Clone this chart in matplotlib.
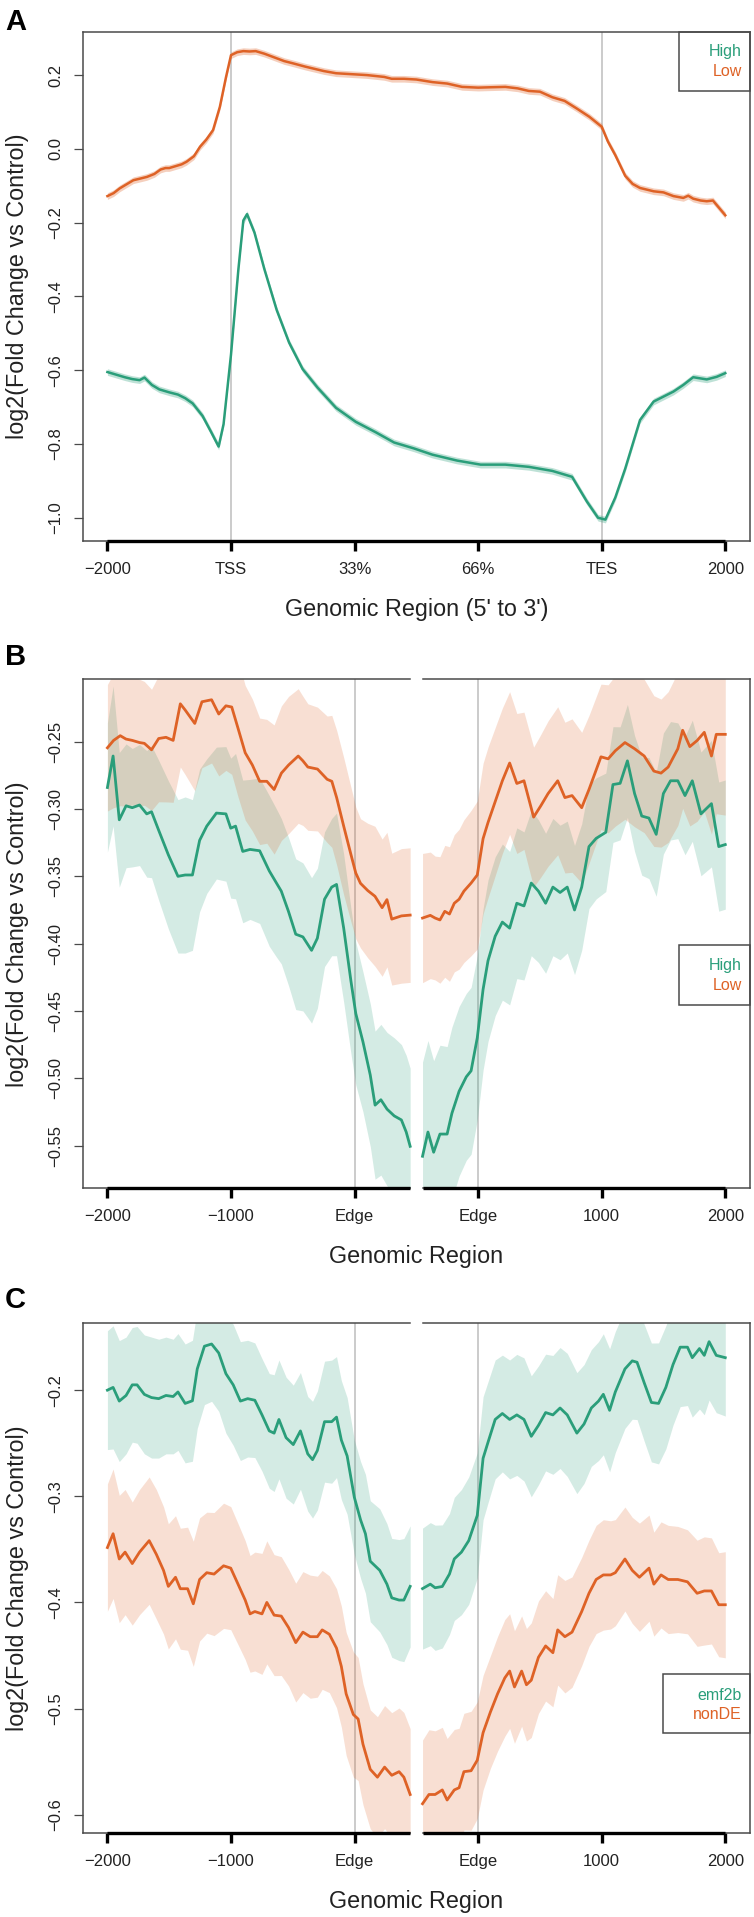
import numpy as np
import matplotlib
matplotlib.use('Agg')
import matplotlib.pyplot as plt
from matplotlib.patches import Rectangle

plt.rcParams['font.family'] = ['Liberation Sans', 'DejaVu Sans']

# ---------------- DATA ----------------
GREEN = '#2A9E7A'
ORANGE = '#DE6226'

# Panel A: x in profile units (0=-2000, 1=TSS, 2=33%, 3=66%, 4=TES, 5=2000)
A_xticklabels = ['\u22122000', 'TSS', '33%', '66%', 'TES', '2000']
A_legend = ['High', 'Low']
A_low_x = [0, 0.05, 0.10, 0.15, 0.21, 0.26, 0.32, 0.38, 0.43, 0.47, 0.50, 0.54, 0.60, 0.64, 0.70,
           0.75, 0.80, 0.855, 0.91, 0.96, 1.0, 1.05, 1.1, 1.15, 1.2, 1.27, 1.35, 1.43, 1.5, 1.6,
           1.75, 1.85, 2.0, 2.1, 2.24, 2.3, 2.4, 2.5, 2.63, 2.75, 2.87, 3.0, 3.1, 3.22, 3.32,
           3.41, 3.5, 3.6, 3.7, 3.8, 3.9, 4.0, 4.05, 4.11, 4.19, 4.25, 4.31, 4.42, 4.5, 4.58,
           4.66, 4.7, 4.74, 4.8, 4.85, 4.9, 4.95, 5.0]
A_low = [-0.128, -0.12, -0.107, -0.097, -0.085, -0.081, -0.076, -0.068, -0.056, -0.052, -0.052, -0.048, -0.042, -0.035, -0.02,
         0.006, 0.025, 0.051, 0.114, 0.195, 0.254, 0.262, 0.265, 0.264, 0.265, 0.258, 0.248, 0.238, 0.232, 0.223,
         0.211, 0.205, 0.202, 0.2, 0.195, 0.19, 0.19, 0.188, 0.181, 0.177, 0.168, 0.166, 0.167, 0.168, 0.164,
         0.157, 0.155, 0.14, 0.13, 0.109, 0.087, 0.06, 0.02, -0.017, -0.073, -0.095, -0.106, -0.115, -0.118, -0.128,
         -0.133, -0.127, -0.135, -0.14, -0.142, -0.14, -0.16, -0.18]
A_high_x = [0, 0.07, 0.14, 0.2, 0.26, 0.3, 0.36, 0.42, 0.5, 0.57, 0.63, 0.69, 0.77, 0.84, 0.9, 0.94, 1.0,
            1.06, 1.10, 1.13, 1.19, 1.27, 1.37, 1.47, 1.58, 1.7, 1.85, 2.01, 2.17, 2.32, 2.48, 2.63,
            2.83, 3.02, 3.22, 3.41, 3.6, 3.76, 3.88, 3.97, 4.03, 4.11, 4.19, 4.31, 4.42, 4.58, 4.66,
            4.74, 4.85, 4.93, 5.0]
A_high = [-0.605, -0.612, -0.619, -0.624, -0.627, -0.62, -0.64, -0.652, -0.66, -0.666, -0.676, -0.69, -0.724, -0.768, -0.807, -0.746, -0.558,
          -0.326, -0.194, -0.177, -0.227, -0.326, -0.437, -0.525, -0.597, -0.647, -0.702, -0.74, -0.768, -0.796, -0.812, -0.829,
          -0.845, -0.856, -0.856, -0.862, -0.873, -0.889, -0.956, -1.0, -1.005, -0.945, -0.867, -0.735, -0.685, -0.658, -0.64,
          -0.619, -0.625, -0.618, -0.608]
A_low_se = 0.009
A_high_se = 0.009

# Panels B and C: bp relative to edge; left block is the left edge, right block the right edge
BC_xticklabels = ['\u22122000', '\u22121000', 'Edge', 'Edge', '1000', '2000']
B_legend = ['High', 'Low']
C_legend = ['emf2b', 'nonDE']

B_low_left_bp = [-2000, -1950, -1896, -1850, -1799, -1740, -1701, -1643, -1585, -1526,
                 -1468, -1410, -1371, -1293, -1235, -1157, -1099, -1041, -994, -943,
                 -885, -827, -768, -710, -651, -592, -534, -456, -418, -378,
                 -300, -222, -184, -145, -88, -29, 10, 48, 107, 165,
                 223, 262, 301, 379, 450]
B_low_left = [-0.2545, -0.249, -0.2455, -0.248, -0.249, -0.2506, -0.2512, -0.256, -0.2476, -0.2467,
              -0.249, -0.2218, -0.2264, -0.2364, -0.2203, -0.2188, -0.2294, -0.2233, -0.2242, -0.24,
              -0.2582, -0.2673, -0.2794, -0.2794, -0.2855, -0.2733, -0.2673, -0.2606, -0.2642, -0.2688,
              -0.2703, -0.2779, -0.2794, -0.2915, -0.3127, -0.3339, -0.3476, -0.3552, -0.3606, -0.3648,
              -0.3733, -0.3673, -0.3818, -0.3794, -0.3788]
B_low_left_se = [0.047, 0.050, 0.052, 0.050, 0.048, 0.047, 0.046, 0.045, 0.047, 0.048,
                 0.046, 0.047, 0.048, 0.050, 0.049, 0.047, 0.046, 0.048, 0.050, 0.051,
                 0.050, 0.049, 0.047, 0.046, 0.048, 0.050, 0.051, 0.050, 0.048, 0.047,
                 0.046, 0.047, 0.049, 0.050, 0.051, 0.050, 0.049, 0.048, 0.050, 0.052,
                 0.051, 0.050, 0.049, 0.050, 0.050]
B_high_left_bp = [-2000, -1954, -1904, -1849, -1799, -1740, -1682, -1643, -1585, -1507,
                  -1429, -1371, -1312, -1254, -1196, -1118, -1041, -1002, -963, -905,
                  -846, -768, -690, -632, -593, -535, -476, -418, -348, -301,
                  -243, -185, -146, -88, -29, 10, 68, 127, 166, 213,
                  263, 321, 379, 418, 450]
B_high_left = [-0.284, -0.2606, -0.308, -0.2976, -0.299, -0.297, -0.3036, -0.302, -0.3158, -0.334,
               -0.35, -0.349, -0.349, -0.3233, -0.3127, -0.303, -0.3036, -0.3142, -0.3127, -0.3315,
               -0.330, -0.331, -0.346, -0.355, -0.361, -0.376, -0.393, -0.395, -0.405, -0.396,
               -0.367, -0.358, -0.356, -0.3885, -0.428, -0.452, -0.473, -0.4976, -0.520, -0.516,
               -0.523, -0.528, -0.531, -0.540, -0.5506]
B_high_left_se = [0.048, 0.052, 0.050, 0.046, 0.044, 0.045, 0.047, 0.049, 0.052, 0.055,
                  0.057, 0.058, 0.056, 0.053, 0.050, 0.049, 0.050, 0.052, 0.054, 0.053,
                  0.052, 0.054, 0.056, 0.055, 0.054, 0.055, 0.056, 0.055, 0.054, 0.052,
                  0.050, 0.051, 0.053, 0.055, 0.054, 0.053, 0.052, 0.053, 0.055, 0.056,
                  0.057, 0.058, 0.056, 0.057, 0.058]
B_low_right_bp = [-450, -387, -348, -309, -270, -232, -193, -154, -115, -57,
                  -7, 40, 80, 138, 196, 255, 313, 371, 449, 507,
                  566, 644, 702, 760, 838, 897, 994, 1052, 1110, 1188,
                  1266, 1344, 1422, 1480, 1538, 1616, 1655, 1713, 1772, 1830,
                  1888, 1927, 2000]
B_low_right = [-0.381, -0.379, -0.381, -0.3824, -0.376, -0.378, -0.370, -0.367, -0.361, -0.355,
               -0.349, -0.322, -0.310, -0.2945, -0.279, -0.2658, -0.281, -0.279, -0.306, -0.2976,
               -0.2885, -0.279, -0.2915, -0.29, -0.299, -0.2855, -0.2612, -0.2627, -0.2567, -0.2506,
               -0.2552, -0.2606, -0.2718, -0.2733, -0.2688, -0.2552, -0.2415, -0.2536, -0.2491, -0.243,
               -0.2606, -0.2445, -0.2445]
B_low_right_se = [0.048, 0.047, 0.046, 0.047, 0.049, 0.050, 0.051, 0.052, 0.053, 0.054,
                  0.055, 0.056, 0.056, 0.055, 0.054, 0.053, 0.052, 0.051, 0.052, 0.053,
                  0.054, 0.055, 0.056, 0.057, 0.056, 0.055, 0.054, 0.055, 0.056, 0.057,
                  0.058, 0.057, 0.056, 0.055, 0.056, 0.057, 0.058, 0.059, 0.060, 0.059,
                  0.058, 0.059, 0.060]
B_high_right_bp = [-450, -406, -360, -309, -251, -212, -154, -96, -57, -7,
                   40, 80, 138, 196, 255, 313, 371, 430, 488, 546,
                   605, 663, 721, 780, 838, 897, 955, 1033, 1091, 1149,
                   1208, 1266, 1324, 1382, 1441, 1499, 1557, 1616, 1674, 1733,
                   1803, 1888, 1947, 2000]
B_high_right = [-0.558, -0.540, -0.555, -0.5415, -0.5415, -0.526, -0.5097, -0.499, -0.4945, -0.470,
                -0.434, -0.4127, -0.3945, -0.384, -0.3885, -0.370, -0.372, -0.355, -0.361, -0.370,
                -0.358, -0.362, -0.358, -0.375, -0.358, -0.3279, -0.3218, -0.3173, -0.2818, -0.2809,
                -0.2642, -0.2885, -0.3052, -0.3067, -0.3188, -0.2885, -0.279, -0.279, -0.29, -0.279,
                -0.3036, -0.296, -0.3279, -0.3264]
B_high_right_se = [0.070, 0.068, 0.068, 0.066, 0.065, 0.064, 0.063, 0.062, 0.062, 0.061,
                   0.060, 0.060, 0.059, 0.058, 0.057, 0.056, 0.055, 0.054, 0.053, 0.052,
                   0.051, 0.050, 0.049, 0.048, 0.047, 0.046, 0.045, 0.044, 0.043, 0.042,
                   0.042, 0.043, 0.044, 0.045, 0.046, 0.045, 0.044, 0.043, 0.044, 0.045,
                   0.046, 0.047, 0.048, 0.048]

C_emf_left_bp = [-2000, -1954, -1904, -1849, -1799, -1760, -1701, -1643, -1585, -1526,
                 -1468, -1429, -1371, -1312, -1273, -1215, -1157, -1099, -1041, -982,
                 -924, -865, -807, -749, -690, -651, -612, -554, -496, -438,
                 -379, -340, -301, -243, -185, -146, -107, -60, -2, 49,
                 88, 127, 204, 262, 301, 360, 399, 450]
C_emf_left = [-0.2, -0.1974, -0.2103, -0.205, -0.195, -0.195, -0.204, -0.207, -0.208, -0.205,
              -0.206, -0.2017, -0.2125, -0.210, -0.180, -0.1586, -0.1565, -0.165, -0.1845, -0.195,
              -0.2103, -0.208, -0.2095, -0.2233, -0.2384, -0.2405, -0.2276, -0.2448, -0.2513, -0.2384,
              -0.260, -0.2655, -0.2569, -0.2297, -0.2297, -0.2254, -0.247, -0.262, -0.3009, -0.3224,
              -0.3353, -0.3612, -0.3698, -0.3828, -0.3957, -0.3978, -0.3978, -0.3849]
C_emf_left_se = [0.056, 0.058, 0.057, 0.055, 0.054, 0.055, 0.056, 0.057, 0.056, 0.055,
                 0.054, 0.055, 0.056, 0.057, 0.056, 0.055, 0.054, 0.055, 0.056, 0.057,
                 0.056, 0.055, 0.054, 0.053, 0.054, 0.055, 0.056, 0.057, 0.056, 0.055,
                 0.054, 0.055, 0.056, 0.057, 0.058, 0.057, 0.056, 0.055, 0.054, 0.055,
                 0.056, 0.057, 0.058, 0.057, 0.056, 0.057, 0.058, 0.057]
C_emf_right_bp = [-450, -387, -348, -290, -232, -193, -135, -76, -7, 40,
                  80, 138, 196, 255, 313, 371, 430, 488, 546, 605,
                  663, 721, 799, 857, 916, 974, 1013, 1064, 1110, 1188,
                  1247, 1286, 1344, 1402, 1460, 1519, 1577, 1635, 1694, 1733,
                  1791, 1830, 1869, 1927, 2000]
C_emf_right = [-0.387, -0.3828, -0.3862, -0.385, -0.3733, -0.359, -0.3526, -0.3418, -0.318, -0.2642,
               -0.2491, -0.2276, -0.222, -0.2276, -0.2233, -0.2276, -0.2435, -0.2332, -0.2211, -0.2233,
               -0.2168, -0.2233, -0.2405, -0.2319, -0.2168, -0.2103, -0.2039, -0.219, -0.2017, -0.180,
               -0.1724, -0.1737, -0.1931, -0.2116, -0.2125, -0.1974, -0.1759, -0.1595, -0.1595, -0.1694,
               -0.1608, -0.1672, -0.1543, -0.1672, -0.1694]
C_emf_right_se = [0.057, 0.058, 0.059, 0.058, 0.057, 0.058, 0.059, 0.060, 0.059, 0.058,
                  0.057, 0.056, 0.055, 0.056, 0.057, 0.058, 0.057, 0.056, 0.055, 0.056,
                  0.057, 0.058, 0.057, 0.056, 0.055, 0.056, 0.057, 0.058, 0.057, 0.056,
                  0.055, 0.054, 0.055, 0.056, 0.057, 0.058, 0.057, 0.056, 0.055, 0.056,
                  0.057, 0.056, 0.055, 0.054, 0.055]
C_non_left_bp = [-2000, -1954, -1904, -1857, -1799, -1740, -1662, -1604, -1546, -1507,
                 -1449, -1410, -1351, -1305, -1254, -1196, -1137, -1060, -1002, -943,
                 -885, -846, -807, -749, -710, -651, -593, -534, -476, -418,
                 -359, -301, -262, -204, -146, -107, -68, -10, 29, 68,
                 127, 185, 243, 301, 360, 399, 450]
C_non_left = [-0.3483, -0.3353, -0.3591, -0.3526, -0.3634, -0.3526, -0.3418, -0.3547, -0.3698, -0.3849,
              -0.3763, -0.3871, -0.3871, -0.4013, -0.3784, -0.372, -0.3733, -0.3655, -0.3677, -0.3828,
              -0.3978, -0.4108, -0.4086, -0.4108, -0.4, -0.412, -0.4129, -0.4237, -0.4379, -0.428,
              -0.4323, -0.4323, -0.4259, -0.430, -0.4431, -0.4603, -0.4862, -0.5056, -0.5099, -0.5336,
              -0.5573, -0.5647, -0.5552, -0.5629, -0.5595, -0.5647, -0.581]
C_non_left_se = [0.060, 0.061, 0.060, 0.059, 0.058, 0.059, 0.060, 0.061, 0.060, 0.059,
                 0.058, 0.057, 0.058, 0.059, 0.058, 0.057, 0.058, 0.059, 0.058, 0.057,
                 0.056, 0.055, 0.056, 0.057, 0.058, 0.057, 0.056, 0.055, 0.056, 0.057,
                 0.058, 0.057, 0.056, 0.055, 0.056, 0.057, 0.058, 0.059, 0.058, 0.057,
                 0.056, 0.057, 0.058, 0.059, 0.060, 0.061, 0.062]
C_non_right_bp = [-450, -398, -348, -290, -251, -193, -154, -115, -57, -7,
                  40, 99, 157, 216, 255, 294, 352, 391, 430, 488,
                  546, 605, 644, 702, 760, 838, 897, 955, 1013, 1072,
                  1110, 1188, 1247, 1305, 1383, 1422, 1480, 1538, 1616, 1694,
                  1772, 1830, 1888, 1947, 2000]
C_non_right = [-0.5897, -0.581, -0.581, -0.5767, -0.5862, -0.5767, -0.5746, -0.5595, -0.5586, -0.5487,
               -0.5228, -0.5034, -0.4862, -0.4711, -0.4647, -0.4797, -0.4647, -0.4776, -0.4733, -0.4517,
               -0.441, -0.4474, -0.4259, -0.4323, -0.428, -0.4086, -0.3914, -0.3784, -0.3741, -0.3741,
               -0.372, -0.3591, -0.3698, -0.3763, -0.3677, -0.3828, -0.3741, -0.3784, -0.3784, -0.3806,
               -0.3914, -0.3892, -0.3892, -0.4022, -0.4022]
C_non_right_se = [0.060, 0.061, 0.060, 0.059, 0.058, 0.057, 0.056, 0.055, 0.056, 0.055,
                  0.054, 0.053, 0.054, 0.055, 0.054, 0.053, 0.052, 0.053, 0.054, 0.053,
                  0.052, 0.051, 0.052, 0.053, 0.052, 0.051, 0.050, 0.051, 0.052, 0.051,
                  0.050, 0.049, 0.050, 0.051, 0.050, 0.049, 0.050, 0.051, 0.050, 0.049,
                  0.050, 0.051, 0.050, 0.049, 0.050]

A_yticks = [-1.0, -0.8, -0.6, -0.4, -0.2, 0.0, 0.2]
B_yticks = [-0.55, -0.50, -0.45, -0.40, -0.35, -0.30, -0.25]
C_yticks = [-0.6, -0.5, -0.4, -0.3, -0.2]

# ---------------- LAYOUT ----------------
W, H = 754, 1917
fig = plt.figure(figsize=(W / 100, H / 100), dpi=100)
FRAME = '#4a4a4a'
TXT = '#222222'
VLINE = '#BDBDBD'


def fx(px):
    return px / W


def fy(py):
    return 1 - py / H


AX_L, AX_R = 82.7, 750.0


def make_axes(top, bottom):
    return fig.add_axes([fx(AX_L), fy(bottom), (AX_R - AX_L) / W, (bottom - top) / H])


def fmt(v, nd):
    s = f'{abs(v):.{nd}f}'
    return ('\u2212' + s) if v < 0 else s


def style_axes(ax, ylim, yticks, nd, xticklabels):
    ax.set_xlim(-0.2, 5.2)
    ax.set_ylim(*ylim)
    ax.set_xticks(range(6), xticklabels)
    ax.set_yticks(yticks, [fmt(v, nd) for v in yticks], rotation=90, va='center')
    ax.tick_params(axis='x', length=7.2, width=2.4, color='black', pad=8.0,
                   labelsize=12, labelcolor=TXT)
    ax.tick_params(axis='y', length=6.8, width=0.9, color=FRAME, pad=7.0,
                   labelsize=12, labelcolor=TXT)
    for s in ax.spines.values():
        s.set_color(FRAME)
        s.set_linewidth(1.1)


def band_line(ax, x, m, se, color):
    x = np.asarray(x, float)
    m = np.asarray(m, float)
    se = np.asarray(se, float) * np.ones_like(m)
    ax.fill_between(x, m - se, m + se, color=color, alpha=0.2, lw=0, zorder=2)
    return x, m


def legend_box(top, bottom, left, labels, ys):
    fig.patches.append(Rectangle((fx(left), fy(bottom)), (AX_R - left) / W, (bottom - top) / H,
                                 transform=fig.transFigure, fill=False, ec=FRAME, lw=1.1))
    for lab, y, c in zip(labels, ys, [GREEN, ORANGE]):
        fig.text(fx(741.5), fy(y), lab, ha='right', va='center', color=c, fontsize=11.5)


# ---------- Panel A ----------
axA = make_axes(32.3, 541.0)
style_axes(axA, (-1.063, 0.316), A_yticks, 1, A_xticklabels)
for xv in (1, 4):
    axA.axvline(xv, color=VLINE, lw=1.1, zorder=1)
for x, m, se, c in [(A_high_x, A_high, A_high_se, GREEN), (A_low_x, A_low, A_low_se, ORANGE)]:
    x = np.asarray(x, float); m = np.asarray(m, float)
    axA.fill_between(x, m - se, m + se, color=c, alpha=0.3, lw=0, zorder=2)
    axA.plot(x, m, color=c, lw=1.8, zorder=3)
axA.plot([0, 5], [0, 0], transform=axA.get_xaxis_transform(), color='black', lw=2.4,
         clip_on=False, solid_capstyle='butt', zorder=5)
legend_box(32.3, 90.7, 679, A_legend, [51.7, 71.7])


# ---------- Panels B, C ----------
def left_u(bp):
    return (np.asarray(bp, float) + 2000) / 1000.0


def right_u(bp):
    return (np.asarray(bp, float) + 3000) / 1000.0


def split_panel(ax, series):
    ax.spines['top'].set_visible(False)
    ax.spines['bottom'].set_visible(False)
    for xv in (2, 3):
        ax.axvline(xv, color=VLINE, lw=1.1, zorder=1)
    drawn = []
    gl, gr = -np.inf, np.inf
    for bpl, ml, sel, bpr, mr, ser, c in series:
        xl = left_u(bpl); xr = right_u(bpr)
        gl = max(gl, xl.max()); gr = min(gr, xr.min())
        drawn.append(band_line(ax, xl, ml, sel, c) + (c,))
        drawn.append(band_line(ax, xr, mr, ser, c) + (c,))
    for x, m, c in drawn:
        ax.plot(x, m, color=c, lw=2.0, zorder=3)
    tr = ax.get_xaxis_transform()
    for y in (0, 1):
        ax.plot([-0.2, gl], [y, y], transform=tr, color=FRAME, lw=1.1, clip_on=False, zorder=4)
        ax.plot([gr, 5.2], [y, y], transform=tr, color=FRAME, lw=1.1, clip_on=False, zorder=4)
    ax.plot([0, gl], [0, 0], transform=tr, color='black', lw=2.4, clip_on=False,
            solid_capstyle='butt', zorder=5)
    ax.plot([gr, 5], [0, 0], transform=tr, color='black', lw=2.4, clip_on=False,
            solid_capstyle='butt', zorder=5)


axB = make_axes(679.3, 1188.3)
style_axes(axB, (-0.5818, -0.2036), B_yticks, 2, BC_xticklabels)
split_panel(axB, [
    (B_high_left_bp, B_high_left, B_high_left_se, B_high_right_bp, B_high_right, B_high_right_se, GREEN),
    (B_low_left_bp, B_low_left, B_low_left_se, B_low_right_bp, B_low_right, B_low_right_se, ORANGE),
])
legend_box(944.6, 1004.5, 679, B_legend, [965.8, 985.4])

axC = make_axes(1323.3, 1832.7)
style_axes(axC, (-0.617, -0.137), C_yticks, 1, BC_xticklabels)
split_panel(axC, [
    (C_emf_left_bp, C_emf_left, C_emf_left_se, C_emf_right_bp, C_emf_right, C_emf_right_se, GREEN),
    (C_non_left_bp, C_non_left, C_non_left_se, C_non_right_bp, C_non_right, C_non_right_se, ORANGE),
])
legend_box(1673.7, 1732.7, 662.7, C_legend, [1695.0, 1714.3])

# ---------- labels ----------
for letter, yb in [('A', 30), ('B', 665), ('C', 1308)]:
    fig.text(fx(5), fy(yb), letter, fontsize=21, fontweight='bold', va='baseline', ha='left', color='black')

xc = (AX_L + AX_R) / 2
for lab, yb in [("Genomic Region (5' to 3')", 616), ('Genomic Region', 1263.3), ('Genomic Region', 1907.7)]:
    fig.text(fx(xc), fy(yb), lab, ha='center', va='baseline', fontsize=16.8, color=TXT)
for top, bottom in [(32.3, 541.0), (679.3, 1188.3), (1323.3, 1832.7)]:
    fig.text(fx(18), fy((top + bottom) / 2), 'log2(Fold Change vs Control)', rotation=90,
             ha='center', va='center', fontsize=16.8, color=TXT)

fig.savefig('out.png', dpi=100)
